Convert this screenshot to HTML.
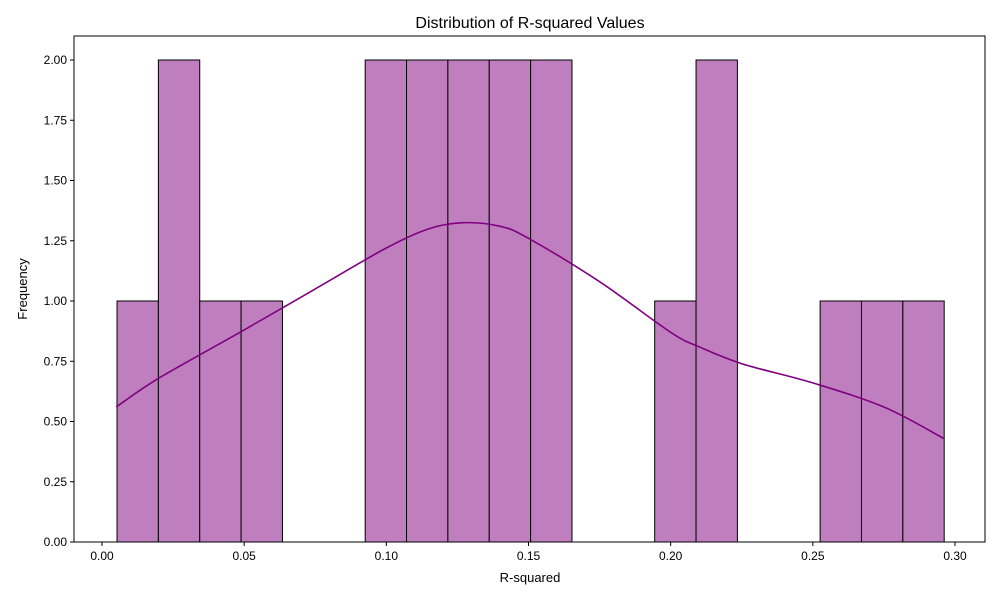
<!DOCTYPE html>
<html><head><meta charset="utf-8"><style>
body{margin:0;background:#fff;font-family:"Liberation Sans",sans-serif;}
text{font-family:"Liberation Sans",sans-serif;}
</style></head><body>
<svg id="chart" width="1000" height="600" xmlns="http://www.w3.org/2000/svg">
<rect width="1000" height="600" fill="#fff"/>
<text x="530" y="28" font-size="16" text-anchor="middle">Distribution of R-squared Values</text>
<g id="bars"></g>
<g id="axes"></g>
<text x="530" y="582" font-size="13" text-anchor="middle">R-squared</text>
<text transform="translate(27,289) rotate(-90)" font-size="13" text-anchor="middle">Frequency</text>
</svg>
<script>
const binStart = 0.00528;
const binEnd = 0.2962;
const counts = [1,2,1,1,0,0,2,2,2,2,2,0,0,1,2,0,0,1,1,1];
const kdeX = [0.005,0.02,0.05,0.075,0.1,0.115,0.127,0.14,0.15,0.175,0.2,0.21,0.225,0.25,0.275,0.296];
const kdeY = [0.56,0.68,0.88,1.05,1.22,1.3,1.325,1.31,1.26,1.08,0.87,0.81,0.74,0.66,0.56,0.43];
const xTicks = [0,0.05,0.1,0.15,0.2,0.25,0.3];
const xTickLabels = ["0.00","0.05","0.10","0.15","0.20","0.25","0.30"];
const yTicks = [0,0.25,0.5,0.75,1,1.25,1.5,1.75,2];
const yTickLabels = ["0.00","0.25","0.50","0.75","1.00","1.25","1.50","1.75","2.00"];

const NS="http://www.w3.org/2000/svg";
const L=74,R=985,T=36,B=542;
const xs=v=>102+v*(955-102)/0.3;
const ys=v=>542-v*241;
function mk(tag,attrs,parent){const e=document.createElementNS(NS,tag);for(const k in attrs)e.setAttribute(k,attrs[k]);parent.appendChild(e);return e;}
const bars=document.getElementById('bars'), axes=document.getElementById('axes');
const w=(binEnd-binStart)/counts.length;
counts.forEach((c,i)=>{
  if(c<=0)return;
  const x0=xs(binStart+i*w), x1=xs(binStart+(i+1)*w);
  const r=mk('rect',{x:x0,y:ys(c),width:x1-x0,height:ys(0)-ys(c),fill:'#bf7fbf',stroke:'#000','stroke-width':1},bars);
  
  
});
const pts=kdeX.map((x,i)=>[xs(x),ys(kdeY[i])]);
let d='M'+pts[0][0].toFixed(1)+','+pts[0][1].toFixed(1);
for(let i=0;i<pts.length-1;i++){
  const p0=pts[Math.max(i-1,0)],p1=pts[i],p2=pts[i+1],p3=pts[Math.min(i+2,pts.length-1)];
  const c1=[p1[0]+(p2[0]-p0[0])/6,p1[1]+(p2[1]-p0[1])/6];
  const c2=[p2[0]-(p3[0]-p1[0])/6,p2[1]-(p3[1]-p1[1])/6];
  d+='C'+c1.map(v=>v.toFixed(1)).join(',')+' '+c2.map(v=>v.toFixed(1)).join(',')+' '+p2.map(v=>v.toFixed(1)).join(',');
}
const p=mk('path',{d:d,fill:'none',stroke:'#800080','stroke-width':1.6,'stroke-linejoin':'round'},bars);


const f=mk('rect',{x:L,y:T,width:R-L,height:B-T,fill:'none',stroke:'#000','stroke-width':1},axes);


xTicks.forEach((v,i)=>{
  mk('line',{x1:xs(v),x2:xs(v),y1:B,y2:B+4,stroke:'#000'},axes);
  const t=mk('text',{x:xs(v),y:B+18,'font-size':12,'text-anchor':'middle'},axes);
  t.textContent=xTickLabels[i];
  
  
});
yTicks.forEach((v,i)=>{
  mk('line',{x1:L-4,x2:L,y1:ys(v),y2:ys(v),stroke:'#000'},axes);
  const t=mk('text',{x:L-7,y:ys(v)+4,'font-size':12,'text-anchor':'end'},axes);
  t.textContent=yTickLabels[i];
  
  
});
</script>
</body></html>
